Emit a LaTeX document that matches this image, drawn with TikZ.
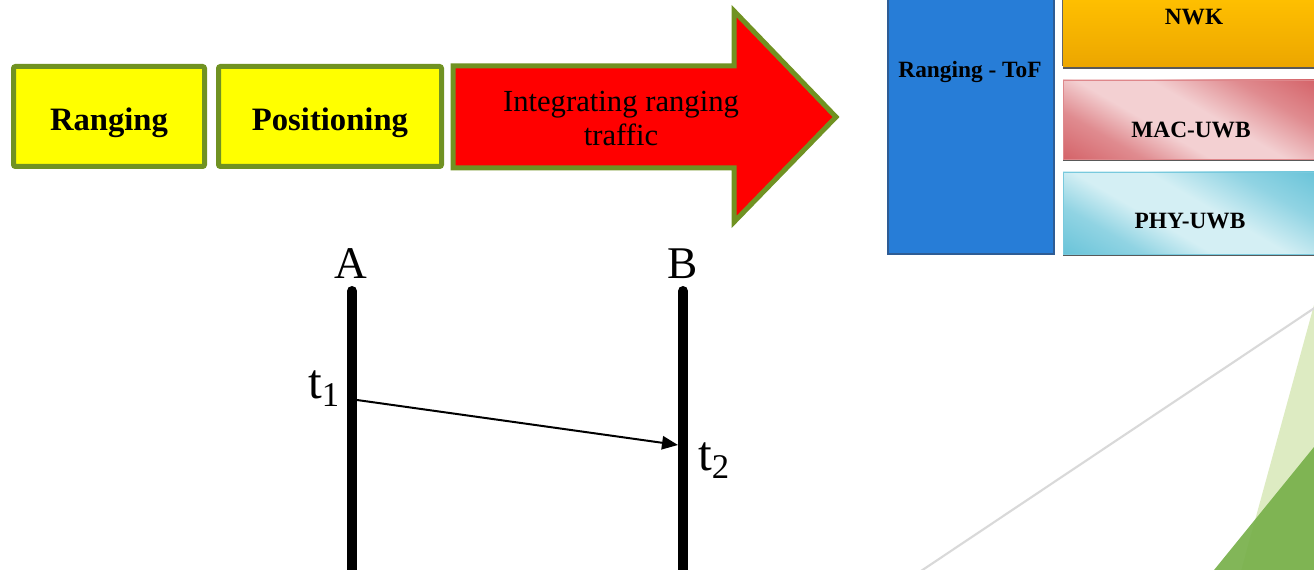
\documentclass[tikz,border=0pt]{standalone}
\usepackage{fontspec}
\setmainfont{Liberation Serif}
\usetikzlibrary{arrows.meta,fit}
\definecolor{olive}{RGB}{112,146,34}
\definecolor{ylw}{RGB}{255,255,0}
\definecolor{arrred}{RGB}{255,0,0}
\definecolor{tofblue}{RGB}{39,125,215}
\definecolor{tofedge}{RGB}{46,92,148}
\definecolor{nwktop}{RGB}{255,192,0}
\definecolor{nwkbot}{RGB}{236,166,0}
\definecolor{macred}{RGB}{200,55,62}
\definecolor{maclight}{RGB}{243,208,210}
\definecolor{phycyan}{RGB}{62,178,206}
\definecolor{phylight}{RGB}{212,239,244}
\definecolor{lgreen}{RGB}{221,235,194}
\definecolor{dgreen}{RGB}{119,176,74}
\definecolor{lgrey}{RGB}{217,217,217}
\pgfdeclarehorizontalshading{macshade}{100bp}{color(0bp)=(macred); color(30bp)=(macred!45!maclight); color(42bp)=(maclight); color(55bp)=(maclight); color(70bp)=(macred!45!maclight); color(100bp)=(macred)}
\pgfdeclarehorizontalshading{physhade}{100bp}{color(0bp)=(phycyan); color(30bp)=(phycyan!45!phylight); color(42bp)=(phylight); color(55bp)=(phylight); color(70bp)=(phycyan!45!phylight); color(100bp)=(phycyan)}
\tikzset{
  ybox/.style={draw=olive, line width=3.75pt, fill=ylw, rounded corners=1.5pt, inner sep=0pt},
  ytext/.style={anchor=base, font=\fontsize{24.5}{28}\selectfont\bfseries, inner sep=0pt},
  stacktext/.style={anchor=base, font=\fontsize{17.5}{20}\selectfont\bfseries, inner sep=0pt},
  bigtext/.style={anchor=base, font=\fontsize{34}{36}\selectfont, inner sep=0pt},
  timeline/.style={line width=7.5pt, line cap=round},
  msg/.style={line width=1.5pt, -{Triangle[length=12pt,width=10pt]}},
  layer/.style={inner sep=0pt}
}
\begin{document}
\begin{tikzpicture}[x=0.75pt,y=-0.75pt]
\useasboundingbox (0,0) rectangle (1314,570);
% background decoration
\fill[lgreen] (1314,305) -- (1240,575) -- (1314,575) -- cycle;
\fill[dgreen, fill opacity=0.92] (1314,447) -- (1210,575) -- (1314,575) -- cycle;
\draw[lgrey, line width=1.6pt] (1316,307) -- (918,573);
% yellow boxes
\node[ybox, fit={(13.5,66.5) (204.5,166.5)}] (rng) {};
\node[ytext] (rngt) at (109,131) {Ranging};
\node[ybox, fit={(218.5,66.5) (441.5,166.5)}] (pos) {};
\node[ytext] (post) at (330,131) {Positioning};
% big arrow
\draw[draw=olive, line width=3.75pt, fill=arrred, line join=miter]
  (453,66) -- (734,66) -- (734,11) -- (836,117) -- (734,222) -- (734,168) -- (453,168) -- cycle;
\node[anchor=base, align=center, inner sep=0pt, font=\fontsize{23}{25.5}\selectfont] (intt) at (621,146) {Integrating ranging\\traffic};
% right stack
\node[layer, fit={(888,-3) (1054,254)}, fill=tofblue, draw=tofedge, line width=0.9pt] (tof) {};
\node[stacktext] (toft) at (970,78) {Ranging - ToF};
\fill[gray!70!black] (1063,-3) rectangle (1316,69);
\shade[top color=nwktop, bottom color=nwkbot] (1063,-3) rectangle (1316,67);
\node[layer, fit={(1063,-3) (1316,67)}] (nwk) {};
\draw[black!60, line width=0.9pt] (1062.5,-3) -- (1062.5,66);
\node[stacktext] (nwkt) at (1194,25) {NWK};
\fill[gray!70!black] (1063,81) rectangle (1316,161);
\shade[shading=macshade, shading angle=60, draw=macred!60, line width=0.6pt] (1063,80) rectangle (1316,159);
\node[layer, fit={(1063,80) (1316,159)}] (mac) {};
\node[stacktext] (mact) at (1191,138) {MAC-UWB};
\fill[gray!70!black] (1063,173) rectangle (1316,256);
\shade[shading=physhade, shading angle=60, draw=phycyan!70, line width=0.6pt] (1063,172) rectangle (1316,254);
\node[layer, fit={(1063,172) (1316,254)}] (phy) {};
\node[stacktext] (phyt) at (1190,229) {PHY-UWB};
% timelines
\coordinate (A1) at (352,291);
\coordinate (A2) at (352,578);
\coordinate (B1) at (683,291);
\coordinate (B2) at (683,578);
\draw[timeline] (A1) -- (A2);
\draw[timeline] (B1) -- (B2);
\node[bigtext] (la) at (351,279) {A};
\node[bigtext] (lb) at (683,279) {B};
\node[bigtext, anchor=base west] (t1) at (308,398) {\fontsize{37}{37}\selectfont t\raisebox{-6pt}{\fontsize{26}{26}\selectfont 1}};
\node[bigtext, anchor=base west] (t2) at (698,470) {\fontsize{37}{37}\selectfont t\raisebox{-6pt}{\fontsize{26}{26}\selectfont 2}};
\coordinate (s1) at (357,400);
\coordinate (s2) at (678,445);
\draw[msg] (s1) -- (s2);
\end{tikzpicture}
\end{document}
